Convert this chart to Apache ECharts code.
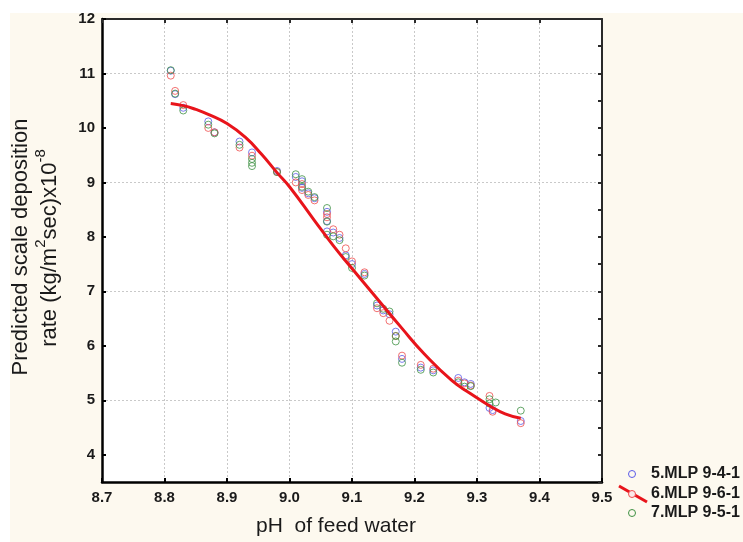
<!DOCTYPE html>
<html>
<head>
<meta charset="utf-8">
<script src="https://cdn.jsdelivr.net/npm/echarts@6/dist/echarts.min.js"></script>
<style>
  html, body { margin: 0; padding: 0; background: #ffffff; }
  #chart { width: 743px; height: 542px; }
</style>
</head>
<body>
<div id="chart"></div>
<script>
// Observed / predicted scale deposition rate vs. pH of feed water
const xTicks = [8.7, 8.8, 8.9, 9.0, 9.1, 9.2, 9.3, 9.4, 9.5];
const yTicks = [4, 5, 6, 7, 8, 9, 10, 11, 12];

const mlp941 = [
  [8.81, 11.05], [8.817, 10.62], [8.83, 10.37], [8.87, 10.12], [8.88, 9.92],
  [8.92, 9.75], [8.94, 9.55], [8.98, 9.21], [9.01, 9.10], [9.02, 9.02],
  [9.02, 8.90], [9.03, 8.80], [9.04, 8.71], [9.06, 8.46], [9.06, 8.29],
  [9.06, 8.10], [9.07, 8.08], [9.08, 7.98], [9.09, 7.66], [9.10, 7.50],
  [9.12, 7.32], [9.14, 6.74], [9.15, 6.65], [9.16, 6.58], [9.17, 6.26],
  [9.18, 5.76], [9.21, 5.60], [9.23, 5.55], [9.27, 5.41], [9.28, 5.33],
  [9.29, 5.30], [9.32, 4.86], [9.325, 4.82], [9.37, 4.62]
];

const mlp961 = [
  [8.81, 10.96], [8.817, 10.68], [8.83, 10.42], [8.87, 10.00], [8.88, 9.92],
  [8.92, 9.64], [8.94, 9.49], [8.98, 9.19], [9.01, 9.00], [9.02, 8.97],
  [9.02, 8.86], [9.03, 8.77], [9.04, 8.67], [9.06, 8.42], [9.06, 8.36],
  [9.07, 8.14], [9.08, 8.04], [9.09, 7.79], [9.10, 7.55], [9.12, 7.35],
  [9.14, 6.69], [9.15, 6.60], [9.16, 6.46], [9.17, 6.18], [9.18, 5.82],
  [9.21, 5.65], [9.23, 5.58], [9.27, 5.36], [9.28, 5.31], [9.29, 5.27],
  [9.32, 5.08], [9.325, 4.79], [9.37, 4.58]
];

const mlp951 = [
  [8.81, 11.06], [8.817, 10.63], [8.83, 10.32], [8.87, 10.06], [8.88, 9.90],
  [8.92, 9.69], [8.94, 9.43], [8.94, 9.36], [8.94, 9.30], [8.98, 9.19],
  [9.01, 9.15], [9.02, 9.06], [9.02, 8.92], [9.03, 8.83], [9.04, 8.73],
  [9.06, 8.53], [9.06, 8.28], [9.06, 8.04], [9.07, 8.01], [9.08, 7.94],
  [9.09, 7.63], [9.10, 7.43], [9.12, 7.29], [9.14, 6.78], [9.15, 6.68],
  [9.16, 6.63], [9.17, 6.18], [9.17, 6.08], [9.18, 5.69], [9.21, 5.56],
  [9.23, 5.51], [9.27, 5.33], [9.28, 5.25], [9.29, 5.26], [9.32, 5.02],
  [9.32, 4.94], [9.33, 4.96], [9.37, 4.81]
];

// fitted response curve of the 9-6-1 network
const fitCurve = [
  [8.81, 10.45], [8.83, 10.41], [8.85, 10.34], [8.87, 10.25], [8.90, 10.08],
  [8.93, 9.82], [8.955, 9.52], [8.98, 9.18], [9.00, 8.92], [9.04, 8.30],
  [9.07, 7.84], [9.10, 7.42], [9.14, 6.87], [9.18, 6.32], [9.215, 5.86],
  [9.26, 5.36], [9.29, 5.12], [9.32, 4.90], [9.345, 4.75], [9.37, 4.67]
];

const seriesNames = ['5.MLP 9-4-1', '6.MLP 9-6-1', '7.MLP 9-5-1'];
const colors = { blue: '#5b5be8', red: '#ef4d4d', green: '#3f9143', curve: '#e8141b' };

const chart = echarts.init(document.getElementById('chart'), null, { renderer: 'canvas' });

const FONT = 'Liberation Sans, Arial, sans-serif';
const labelFont = { fontFamily: FONT, fontWeight: 'bold', fontSize: 15, color: '#1a1a1a' };
const axisLine = (w, c) => ({ show: true, lineStyle: { color: c, width: w } });

const grid = { left: 102, top: 19, width: 500, height: 463, show: true, backgroundColor: '#ffffff', borderWidth: 0, containLabel: false };

function scatter(name, data, color) {
  return {
    name, type: 'scatter', data, symbol: 'circle', symbolSize: 7,
    itemStyle: { color: 'rgba(255,255,255,0)', borderColor: color, borderWidth: 1 },
    z: 3, silent: true
  };
}

const legendX = 632, legendText = 651;
const legendRows = [474, 494, 513];

chart.setOption({
  backgroundColor: '#fdf9ef',
  animation: false,
  grid,
  xAxis: [
    {
      type: 'value', position: 'bottom', min: 8.7, max: 9.5, interval: 0.1,
      axisLine: axisLine(2.5, '#000'),
      axisTick: { show: true, inside: true, length: 4, lineStyle: { width: 2, color: '#000' } },
      axisLabel: Object.assign({ margin: 8, formatter: v => v.toFixed(1) }, labelFont),
      splitLine: { show: true, lineStyle: { color: '#c9c9c9', type: [2, 2], width: 1 } }
    },
    {
      type: 'value', position: 'top', min: 8.7, max: 9.5, interval: 0.1,
      axisLine: axisLine(2, '#2a2a2a'),
      axisTick: { show: true, inside: true, length: 4, lineStyle: { width: 2, color: '#2a2a2a' } },
      axisLabel: { show: false }, splitLine: { show: false }
    }
  ],
  yAxis: [
    {
      type: 'value', position: 'left', min: 3.5, max: 12, interval: 0.5,
      axisLine: axisLine(2.5, '#000'),
      axisTick: { show: true, inside: true, length: 4, customValues: yTicks, lineStyle: { width: 2, color: '#000' } },
      axisLabel: Object.assign({ margin: 7, customValues: yTicks, formatter: v => String(v) }, labelFont),
      splitLine: { show: true, lineStyle: { color: ['rgba(0,0,0,0)', '#c9c9c9'], type: [2, 2], width: 1 } }
    },
    {
      type: 'value', position: 'right', min: 3.5, max: 12, interval: 0.5,
      axisLine: axisLine(2, '#2a2a2a'),
      axisTick: { show: true, inside: true, length: 4, lineStyle: { width: 2, color: '#2a2a2a' } },
      axisLabel: { show: false }, splitLine: { show: false }
    }
  ],
  series: [
    scatter(seriesNames[0], mlp941, colors.blue),
    scatter(seriesNames[1], mlp961, colors.red),
    scatter(seriesNames[2], mlp951, colors.green),
    {
      name: 'fit', type: 'line', data: fitCurve, smooth: 0.5, showSymbol: false,
      lineStyle: { color: colors.curve, width: 3 }, z: 4, silent: true
    }
  ],
  graphic: [
    // white margins along top and left edges
    { type: 'rect', shape: { x: 0, y: 0, width: 743, height: 13 }, style: { fill: '#ffffff' }, z: -1, silent: true },
    { type: 'rect', shape: { x: 0, y: 0, width: 10, height: 542 }, style: { fill: '#ffffff' }, z: -1, silent: true },
    // axis titles
    {
      type: 'text', x: 256, y: 526, silent: true,
      style: { text: 'pH  of feed water', fontFamily: FONT, fontSize: 21, fill: '#1a1a1a', align: 'left', verticalAlign: 'middle' }
    },
    {
      type: 'text', x: 21, y: 247, rotation: Math.PI / 2, silent: true,
      style: { text: 'Predicted scale deposition', fontFamily: FONT, fontSize: 22, fill: '#1a1a1a', align: 'center', verticalAlign: 'middle' }
    },
    {
      type: 'text', x: 47, y: 248, rotation: Math.PI / 2, silent: true,
      style: {
        text: '{t|rate (kg/m}{s|2}{t|sec)x10}{s|-8}',
        align: 'center', verticalAlign: 'middle', fill: '#1a1a1a',
        rich: {
          t: { fontFamily: FONT, fontSize: 22, lineHeight: 27, fill: '#1a1a1a', verticalAlign: 'bottom' },
          s: { fontFamily: FONT, fontSize: 15, lineHeight: 27, fill: '#1a1a1a', verticalAlign: 'top' }
        }
      }
    },
    // legend
    { type: 'line', shape: { x1: 619, y1: 486, x2: 647, y2: 502 }, style: { stroke: colors.curve, lineWidth: 3 }, silent: true },
    { type: 'circle', shape: { cx: legendX, cy: legendRows[0], r: 3.5 }, style: { fill: 'rgba(255,255,255,0)', stroke: colors.blue, lineWidth: 1 }, silent: true },
    { type: 'circle', shape: { cx: legendX, cy: legendRows[1], r: 3.5 }, style: { fill: '#fbe9e9', stroke: colors.red, lineWidth: 1 }, silent: true },
    { type: 'circle', shape: { cx: legendX, cy: legendRows[2], r: 3.5 }, style: { fill: 'rgba(255,255,255,0)', stroke: colors.green, lineWidth: 1 }, silent: true },
    ...seriesNames.map((n, i) => ({
      type: 'text', x: legendText, y: legendRows[i], silent: true,
      style: { text: n, fontFamily: FONT, fontWeight: 'bold', fontSize: 16, fill: '#1a1a1a', align: 'left', verticalAlign: 'middle' }
    }))
  ]
});
</script>
</body>
</html>
